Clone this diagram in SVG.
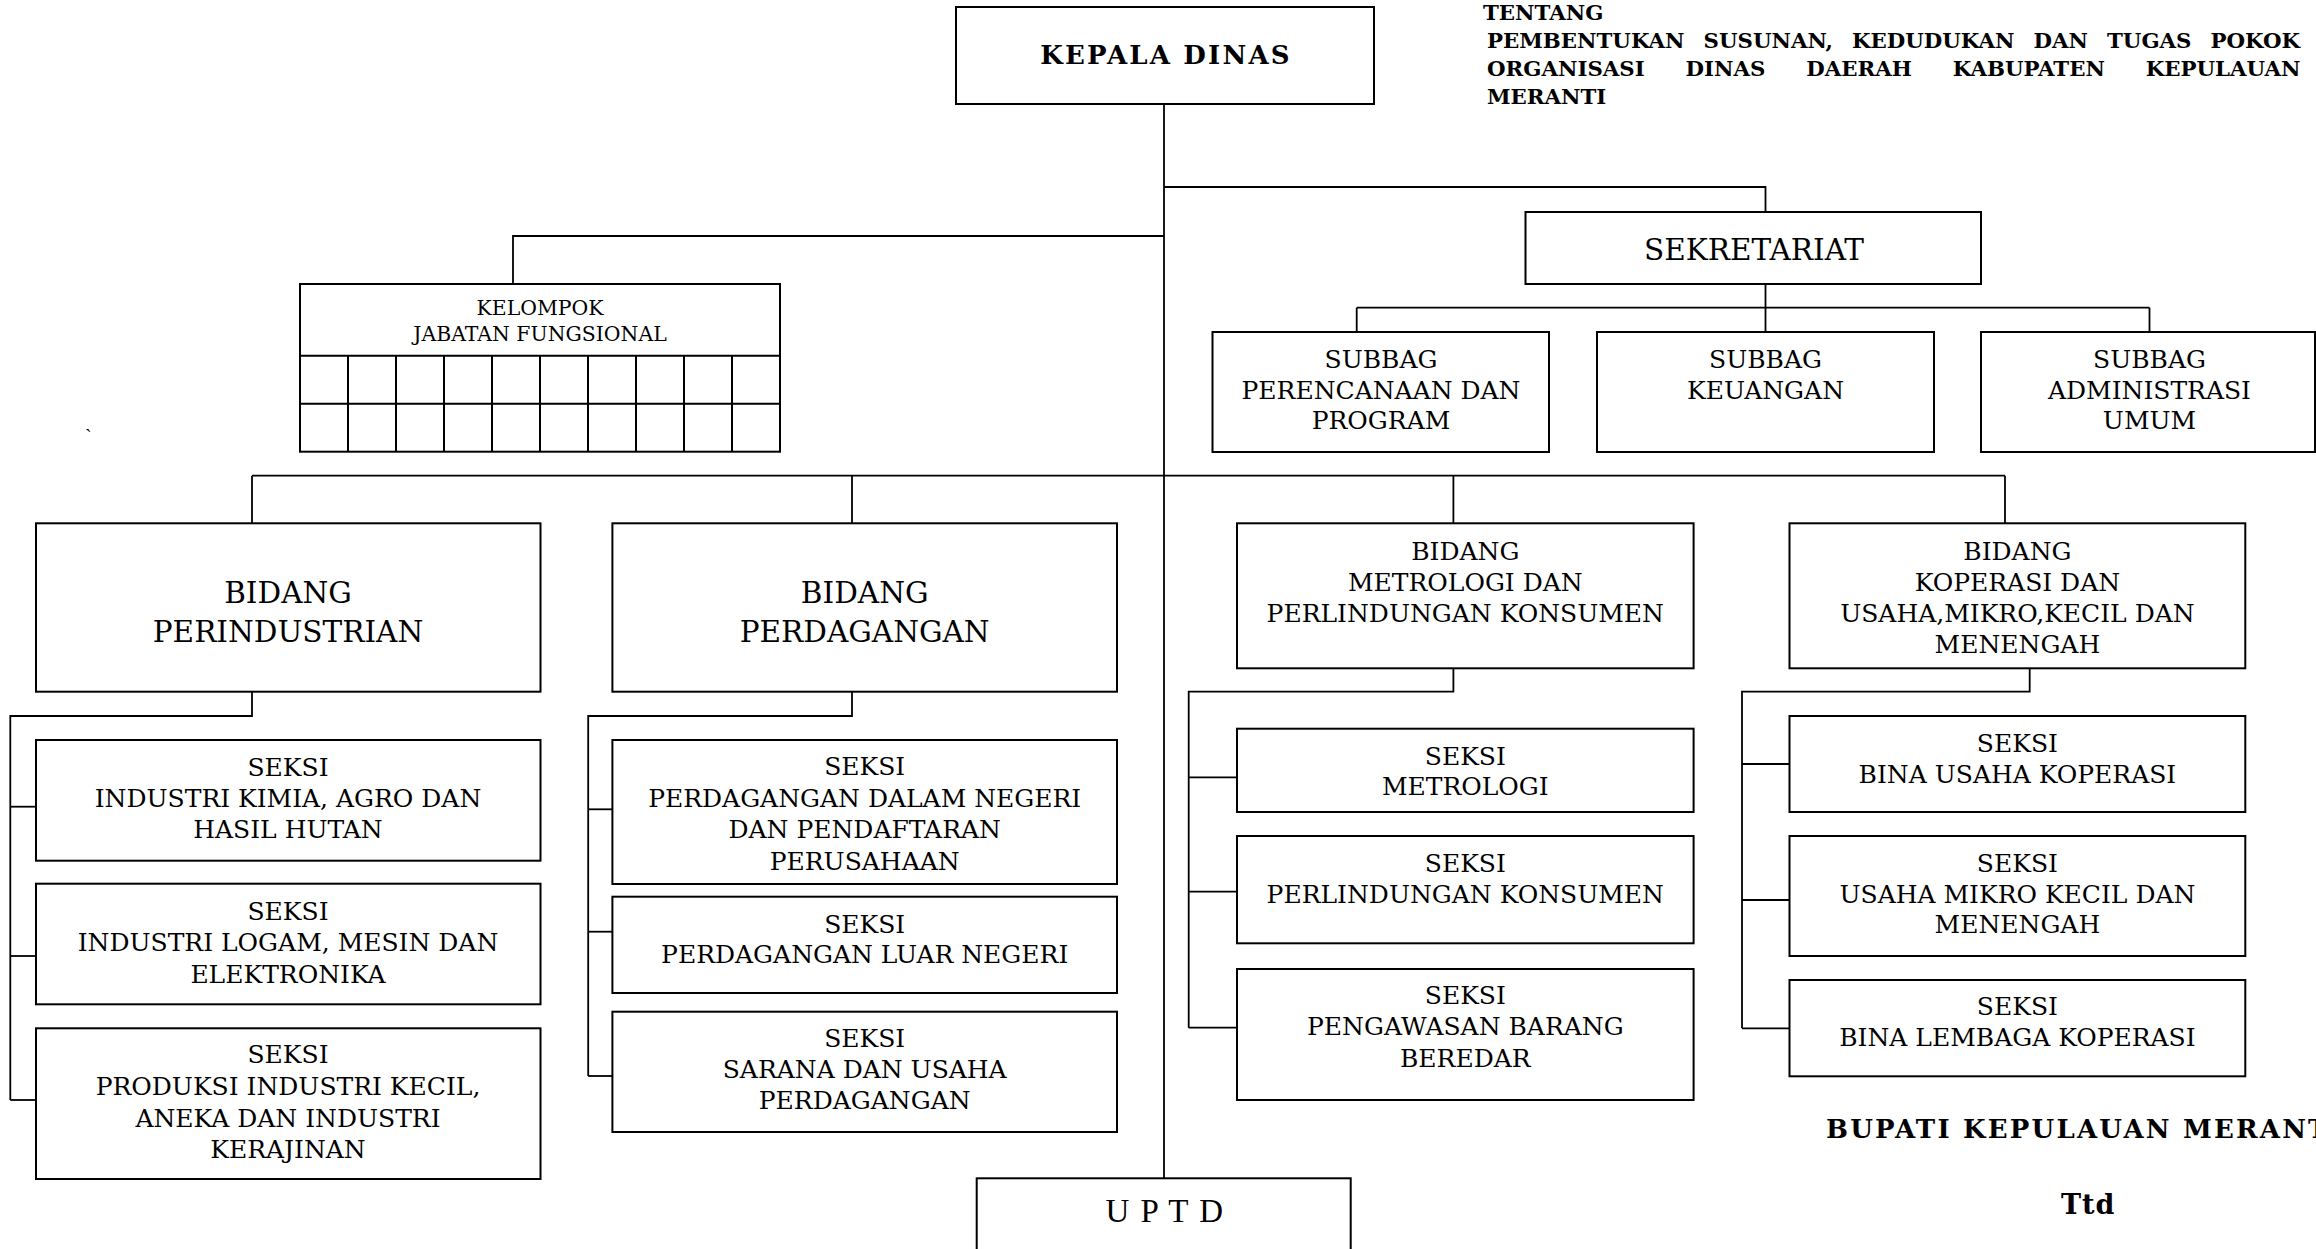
<svg xmlns="http://www.w3.org/2000/svg" width="2316" height="1249" viewBox="0 0 2316 1249">
  <style>
    .box { fill: #fff; stroke: #000; stroke-width: 2; }
    .grid { fill: none; stroke: #000; stroke-width: 2; }
    .link { fill: none; stroke: #000; stroke-width: 1.8; }
    text { font-family: "DejaVu Serif", "Liberation Serif", serif; fill: #000; }
    .t { font-size: 25px; text-anchor: middle; }
    .big { font-size: 29.5px; text-anchor: middle; }
    .small { font-size: 20.4px; text-anchor: middle; }
    .head { font-size: 26px; font-weight: bold; text-anchor: middle; letter-spacing: 2.2px; }
    .note { font-size: 21.3px; font-weight: bold; }
    .sign { font-size: 26px; font-weight: bold; letter-spacing: 2.2px; }
    .uptd { font-family: "Liberation Serif", serif; font-size: 33px; text-anchor: middle; letter-spacing: 1.5px; }
  </style>
  <rect x="0" y="0" width="2316" height="1249" fill="#fff"/>

  <!-- connectors -->
  <g id="connectors" class="link">
    <!-- trunk from the head of office down to the technical unit -->
    <path d="M1164,104 V1178"/>
    <!-- secretariat branch -->
    <path d="M1164,187 H1765.5 V212"/>
    <path d="M1765.5,284 V332"/>
    <path d="M1356.7,307.7 H2149.5"/>
    <path d="M1356.7,307.7 V332"/>
    <path d="M2149.5,307.7 V332"/>
    <!-- functional group -->
    <path d="M1164,236 H513 V284"/>
    <!-- divisions bar -->
    <path d="M252,475.7 H2005"/>
    <path d="M252,475.7 V523.3"/>
    <path d="M852,475.7 V523.3"/>
    <path d="M1453.4,475.7 V523.3"/>
    <path d="M2005,475.7 V523.3"/>
    <!-- industry sections -->
    <path d="M252,691.7 V716 H10.3 V1100"/>
    <path d="M10.3,806.7 H36"/>
    <path d="M10.3,956 H36"/>
    <path d="M10.3,1100 H36"/>
    <!-- trade sections -->
    <path d="M852,691.7 V716 H588.2 V1076"/>
    <path d="M588.2,809.3 H612.4"/>
    <path d="M588.2,931.7 H612.4"/>
    <path d="M588.2,1076 H612.4"/>
    <!-- metrology sections -->
    <path d="M1453.4,668.3 V691.7 H1188.7 V1027.7"/>
    <path d="M1188.7,777.3 H1237"/>
    <path d="M1188.7,891.7 H1237"/>
    <path d="M1188.7,1027.7 H1237"/>
    <!-- cooperative sections -->
    <path d="M2029.7,668.3 V691.7 H1742 V1028.3"/>
    <path d="M1742,764 H1789.5"/>
    <path d="M1742,900 H1789.5"/>
    <path d="M1742,1028.3 H1789.5"/>
  </g>

  <g id="kepala-dinas">
    <rect class="box" x="956" y="7" width="418" height="97"/>
    <text class="head" x="1166" y="64">KEPALA DINAS</text>
  </g>

  <g id="sekretariat">
    <rect class="box" x="1525.5" y="212" width="455.5" height="72"/>
    <text class="big" x="1754" y="260">SEKRETARIAT</text>
  </g>

  <g id="subbag-perencanaan">
    <rect class="box" x="1212.5" y="332" width="336.5" height="120"/>
    <text class="t" x="1381" y="368.3">SUBBAG</text>
    <text class="t" x="1381" y="398.5">PERENCANAAN DAN</text>
    <text class="t" x="1381" y="429">PROGRAM</text>
  </g>

  <g id="subbag-keuangan">
    <rect class="box" x="1597" y="332" width="337" height="120"/>
    <text class="t" x="1765.5" y="368.3">SUBBAG</text>
    <text class="t" x="1765.5" y="398.5">KEUANGAN</text>
  </g>

  <g id="subbag-umum">
    <rect class="box" x="1981" y="332" width="334" height="120"/>
    <text class="t" x="2149.5" y="368.3">SUBBAG</text>
    <text class="t" x="2149.5" y="398.5">ADMINISTRASI</text>
    <text class="t" x="2149.5" y="429">UMUM</text>
  </g>

  <g id="jabatan-fungsional">
    <rect class="box" x="300" y="284" width="480" height="167.7"/>
    <text class="small" x="540" y="315">KELOMPOK</text>
    <text class="small" x="540" y="341">JABATAN FUNGSIONAL</text>
    <path class="grid" d="M300,355.7 H780 M300,403.7 H780 M348,355.7 V451.7 M396,355.7 V451.7 M444,355.7 V451.7 M492,355.7 V451.7 M540,355.7 V451.7 M588,355.7 V451.7 M636,355.7 V451.7 M684,355.7 V451.7 M732,355.7 V451.7"/>
  </g>

  <g id="stray-mark">
    <text x="85" y="444" style="font-family: 'Liberation Serif', serif; font-size: 20px;">`</text>
  </g>

  <g id="bidang-perindustrian">
    <rect class="box" x="36" y="523.3" width="504.5" height="168.4"/>
    <text class="big" x="288" y="602.7">BIDANG</text>
    <text class="big" x="288" y="641.7">PERINDUSTRIAN</text>
  </g>

  <g id="bidang-perdagangan">
    <rect class="box" x="612.4" y="523.3" width="504.6" height="168.4"/>
    <text class="big" x="864.7" y="602.7">BIDANG</text>
    <text class="big" x="864.7" y="641.7">PERDAGANGAN</text>
  </g>

  <g id="bidang-metrologi">
    <rect class="box" x="1237" y="523.3" width="456.6" height="145"/>
    <text class="t" x="1465.3" y="560">BIDANG</text>
    <text class="t" x="1465.3" y="590.7">METROLOGI DAN</text>
    <text class="t" x="1465.3" y="622.3">PERLINDUNGAN KONSUMEN</text>
  </g>

  <g id="bidang-koperasi">
    <rect class="box" x="1789.5" y="523.3" width="455.8" height="145"/>
    <text class="t" x="2017.4" y="560">BIDANG</text>
    <text class="t" x="2017.4" y="590.7">KOPERASI DAN</text>
    <text class="t" x="2017.4" y="622.3">USAHA,MIKRO,KECIL DAN</text>
    <text class="t" x="2017.4" y="653.3">MENENGAH</text>
  </g>

  <g id="seksi-kimia-agro">
    <rect class="box" x="36" y="740" width="504.5" height="120.7"/>
    <text class="t" x="288" y="775.7">SEKSI</text>
    <text class="t" x="288" y="806.7">INDUSTRI KIMIA, AGRO DAN</text>
    <text class="t" x="288" y="837.7">HASIL HUTAN</text>
  </g>

  <g id="seksi-logam-mesin">
    <rect class="box" x="36" y="883.7" width="504.5" height="120.6"/>
    <text class="t" x="288" y="920">SEKSI</text>
    <text class="t" x="288" y="950.7">INDUSTRI LOGAM, MESIN DAN</text>
    <text class="t" x="288" y="982.7">ELEKTRONIKA</text>
  </g>

  <g id="seksi-produksi">
    <rect class="box" x="36" y="1028.3" width="504.5" height="150.7"/>
    <text class="t" x="288" y="1063.3">SEKSI</text>
    <text class="t" x="288" y="1095">PRODUKSI INDUSTRI KECIL,</text>
    <text class="t" x="288" y="1126.7">ANEKA DAN INDUSTRI</text>
    <text class="t" x="288" y="1157.7">KERAJINAN</text>
  </g>

  <g id="seksi-dalam-negeri">
    <rect class="box" x="612.4" y="740" width="504.6" height="144"/>
    <text class="t" x="864.7" y="775">SEKSI</text>
    <text class="t" x="864.7" y="806.7">PERDAGANGAN DALAM NEGERI</text>
    <text class="t" x="864.7" y="838.3">DAN PENDAFTARAN</text>
    <text class="t" x="864.7" y="870">PERUSAHAAN</text>
  </g>

  <g id="seksi-luar-negeri">
    <rect class="box" x="612.4" y="896.7" width="504.6" height="96.3"/>
    <text class="t" x="864.7" y="932.7">SEKSI</text>
    <text class="t" x="864.7" y="963.3">PERDAGANGAN LUAR NEGERI</text>
  </g>

  <g id="seksi-sarana">
    <rect class="box" x="612.4" y="1011.7" width="504.6" height="120.3"/>
    <text class="t" x="864.7" y="1047.3">SEKSI</text>
    <text class="t" x="864.7" y="1078.3">SARANA DAN USAHA</text>
    <text class="t" x="864.7" y="1109.3">PERDAGANGAN</text>
  </g>

  <g id="seksi-metrologi">
    <rect class="box" x="1237" y="728.7" width="456.6" height="83.3"/>
    <text class="t" x="1465.3" y="765">SEKSI</text>
    <text class="t" x="1465.3" y="795">METROLOGI</text>
  </g>

  <g id="seksi-perlindungan">
    <rect class="box" x="1237" y="836" width="456.6" height="107.3"/>
    <text class="t" x="1465.3" y="871.7">SEKSI</text>
    <text class="t" x="1465.3" y="902.7">PERLINDUNGAN KONSUMEN</text>
  </g>

  <g id="seksi-pengawasan">
    <rect class="box" x="1237" y="969" width="456.6" height="131"/>
    <text class="t" x="1465.3" y="1004">SEKSI</text>
    <text class="t" x="1465.3" y="1035">PENGAWASAN BARANG</text>
    <text class="t" x="1465.3" y="1066.7">BEREDAR</text>
  </g>

  <g id="seksi-bina-usaha">
    <rect class="box" x="1789.5" y="716" width="455.8" height="96"/>
    <text class="t" x="2017.4" y="751.7">SEKSI</text>
    <text class="t" x="2017.4" y="782.7">BINA USAHA KOPERASI</text>
  </g>

  <g id="seksi-umkm">
    <rect class="box" x="1789.5" y="836" width="455.8" height="120"/>
    <text class="t" x="2017.4" y="871.7">SEKSI</text>
    <text class="t" x="2017.4" y="902.7">USAHA MIKRO KECIL DAN</text>
    <text class="t" x="2017.4" y="933.3">MENENGAH</text>
  </g>

  <g id="seksi-bina-lembaga">
    <rect class="box" x="1789.5" y="980" width="455.8" height="96.3"/>
    <text class="t" x="2017.4" y="1015">SEKSI</text>
    <text class="t" x="2017.4" y="1046">BINA LEMBAGA KOPERASI</text>
  </g>

  <g id="uptd">
    <rect class="box" x="976.7" y="1178.3" width="374" height="90"/>
    <text class="uptd" x="1165" y="1221.7">U P T D</text>
  </g>

  <!-- regulation heading, top right -->
  <g id="judul">
    <text class="note" x="1483" y="20">TENTANG</text>
    <text class="note" x="1487" y="48" style="word-spacing: 11.6px;">PEMBENTUKAN SUSUNAN, KEDUDUKAN DAN TUGAS POKOK</text>
    <text class="note" x="1487" y="76" style="word-spacing: 33.5px;">ORGANISASI DINAS DAERAH KABUPATEN KEPULAUAN</text>
    <text class="note" x="1487" y="104">MERANTI</text>
  </g>

  <!-- signature block, runs past the right margin of the sheet -->
  <g id="pengesahan">
    <text class="sign" x="1826" y="1138.3">BUPATI KEPULAUAN MERANTI</text>
    <text class="sign" x="2061" y="1214" style="font-size: 27px; letter-spacing: 1px;">Ttd</text>
  </g>
</svg>
